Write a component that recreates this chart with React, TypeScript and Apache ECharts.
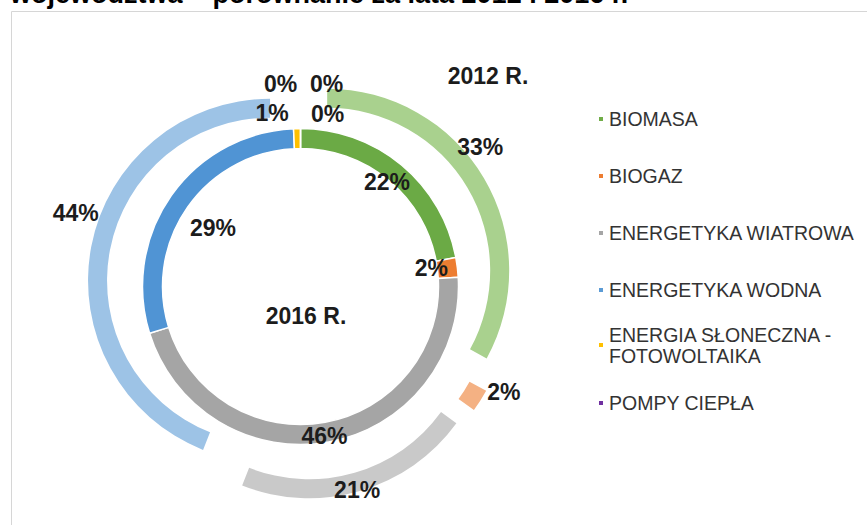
import { useEffect, useRef } from 'react';
import * as echarts from 'echarts';

// ---- data ----
const categories = [
  'BIOMASA',
  'BIOGAZ',
  'ENERGETYKA WIATROWA',
  'ENERGETYKA WODNA',
  'ENERGIA SŁONECZNA - FOTOWOLTAIKA',
  'POMPY CIEPŁA',
];
const values2012 = [33, 2, 21, 44, 0, 0];
const values2016 = [22, 2, 46, 29, 0.7, 0];
const ringTitles = ['2012 R.', '2016 R.'];
const headerText = 'województwa – porównanie za lata 2012 i 2016 r.';

// ---- styles ----
const colors2016 = ['#6BAA45', '#ED7D31', '#A5A5A5', '#5094D4', '#FFC000', '#7030A0'];
const colors2012 = ['#A9D18E', '#F4B183', '#C9C9C9', '#9DC3E6', '#FFD966', '#B4A7D6'];
const legendColors = ['#70AD47', '#ED7D31', '#A5A5A5', '#5B9BD5', '#FFC000', '#7030A0'];
// label nudges (px) from default in-ring position
const nudge2016 = [[-10, 12], [-19, 0], [-3, 1], [36, 28], [-25, -23], [27, -22]];
const nudge2012 = [[2, -34], [29, -5], [-1, 5], [-22, -35], [-20, 4], [26, 4]];

const CX = 300.5;
const CY = 286.5;
const labelFont = {
  fontFamily: 'Liberation Sans, Arial, sans-serif',
  fontWeight: 'bold' as const,
  fontSize: 23,
  color: '#1c1c1c',
};

export default function App() {
  const ref = useRef<HTMLDivElement>(null);
  useEffect(() => {
    if (!ref.current) return;
    const chart = echarts.init(ref.current, undefined, { renderer: 'svg' });
    const legendText = {
      fontFamily: 'Liberation Sans, Arial, sans-serif',
      fontSize: 19.5,
      color: '#333333',
      lineHeight: 21,
    };
    const legendBase = {
      orient: 'vertical' as const,
      left: 597,
      padding: 0,
      icon: 'rect',
      itemWidth: 6,
      itemHeight: 6,
      itemGap: 36,
      selectedMode: false,
      textStyle: legendText,
    };
    const option: any = {
      animation: false,
      backgroundColor: '#ffffff',
      graphic: [
        {
          type: 'rect',
          shape: { x: 11.5, y: 11.5, width: 900, height: 600 },
          style: { fill: 'none', stroke: '#D6D6D6', lineWidth: 1 },
          silent: true,
        },
        {
          type: 'text',
          x: 10,
          y: -6,
          style: {
            text: headerText,
            font: 'bold 27px "Liberation Sans", Arial, sans-serif',
            fill: '#000',
            textVerticalAlign: 'middle',
          },
          silent: true,
        },
        {
          type: 'text',
          x: 488,
          y: 76,
          style: {
            text: ringTitles[0],
            font: 'bold 23px "Liberation Sans", Arial, sans-serif',
            fill: '#1c1c1c',
            textAlign: 'center',
            textVerticalAlign: 'middle',
          },
          silent: true,
        },
        {
          type: 'text',
          x: 306,
          y: 316,
          style: {
            text: ringTitles[1],
            font: 'bold 23px "Liberation Sans", Arial, sans-serif',
            fill: '#1c1c1c',
            textAlign: 'center',
            textVerticalAlign: 'middle',
          },
          silent: true,
        },
      ],
      legend: [
        {
          ...legendBase,
          top: 108.5,
          data: categories.slice(0, 4).map((n, i) => ({ name: n, itemStyle: { color: legendColors[i] } })),
        },
        {
          ...legendBase,
          top: 313.5,
          data: [{ name: categories[4], itemStyle: { color: legendColors[4] } }],
          formatter: () => 'ENERGIA SŁONECZNA -\nFOTOWOLTAIKA',
          textStyle: { ...legendText, padding: [21, 0, 0, 0] },
        },
        {
          ...legendBase,
          top: 392.5,
          data: [{ name: categories[5], itemStyle: { color: legendColors[5] } }],
        },
      ],
      series: [
        {
          name: '2016',
          type: 'pie',
          center: [CX, CY],
          radius: [138, 158],
          startAngle: 90,
          clockwise: true,
          silent: true,
          percentPrecision: 0,
          avoidLabelOverlap: false,
          itemStyle: { borderColor: '#ffffff', borderWidth: 1.5 },
          label: { show: true, position: 'inside', formatter: '{d}%', ...labelFont },
          labelLine: { show: false },
          labelLayout: (p: any) => ({ dx: nudge2016[p.dataIndex][0], dy: nudge2016[p.dataIndex][1] }),
          emphasis: { disabled: true },
          data: categories.map((n, i) => ({ name: n, value: values2016[i], itemStyle: { color: colors2016[i] } })),
        },
        {
          name: '2012',
          type: 'pie',
          center: [CX, CY],
          radius: [163, 182],
          startAngle: 90,
          clockwise: true,
          silent: true,
          percentPrecision: 0,
          avoidLabelOverlap: false,
          selectedMode: 'multiple',
          selectedOffset: 31,
          itemStyle: { borderWidth: 0 },
          label: { show: true, position: 'inside', formatter: '{d}%', ...labelFont },
          labelLine: { show: false },
          labelLayout: (p: any) => ({ dx: nudge2012[p.dataIndex][0], dy: nudge2012[p.dataIndex][1] }),
          emphasis: { disabled: true },
          data: categories.map((n, i) => ({
            name: n,
            value: values2012[i],
            selected: true,
            itemStyle: { color: colors2012[i] },
          })),
        },
      ],
    };
    chart.setOption(option);
    return () => chart.dispose();
  }, []);
  return (
    <div
      ref={ref}
      style={{ position: 'absolute', left: 0, top: 0, width: 867, height: 525 }}
    />
  );
}
